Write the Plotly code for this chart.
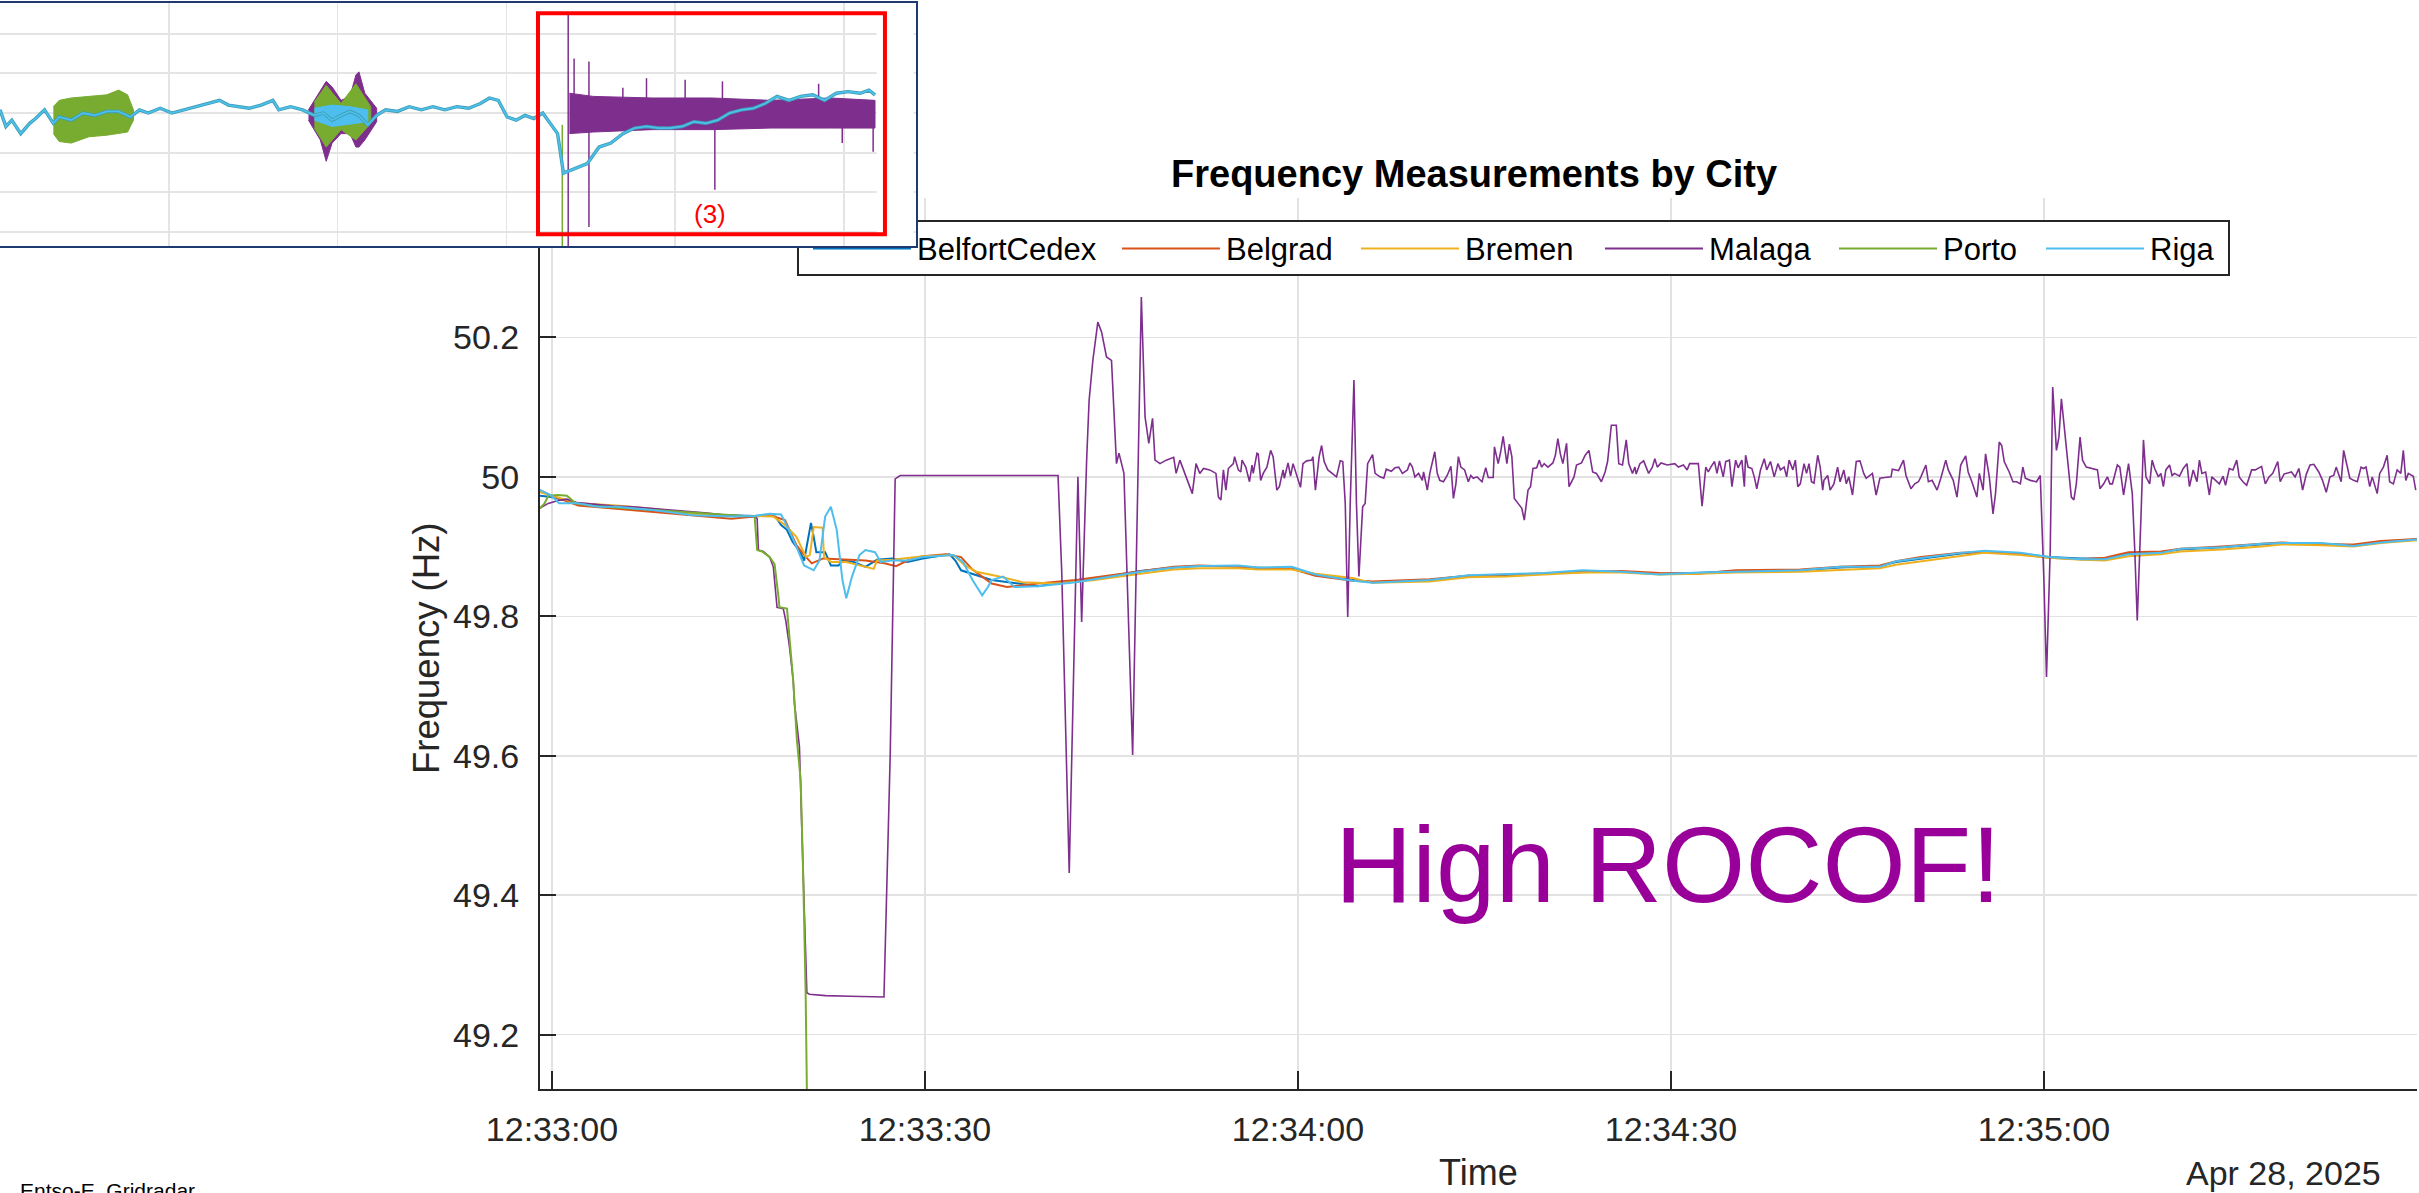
import pandas as pd
import plotly.graph_objects as go

W, H = 2419, 1193
FONT = "Arial, Liberation Sans, Helvetica, sans-serif"
BASE = pd.Timestamp("2025-04-28 12:33:00")

# ---------------- data ----------------
cities = ["BelfortCedex", "Belgrad", "Bremen", "Malaga", "Porto", "Riga"]
colors = ["#0072BD", "#D95319", "#EDB120", "#7E2F8E", "#77AC30", "#4DBEEE"]

x_tick_seconds = [0, 30, 60, 90, 120]
x_tick_text = ["12:33:00", "12:33:30", "12:34:00", "12:34:30", "12:35:00"]
y_tick_vals = [49.2, 49.4, 49.6, 49.8, 50.0, 50.2]
y_tick_text = ["49.2", "49.4", "49.6", "49.8", "50", "50.2"]
x_range_seconds = [-0.965, 150.0]
y_range = [49.122, 50.40]

# seconds after 12:33:00
belfort_t_early = [-0.97, -0.05, 2.11, 5.19, 8.27, 11.35, 14.43, 16.28, 17.51, 17.97,
                   18.43, 18.89, 19.35, 19.97, 20.28, 20.59, 20.83, 21.05, 21.26, 21.97,
                   22.43, 23.05, 23.36, 24.28, 25.21, 26.13, 27.36, 28.59, 29.82, 31.98,
                   32.44, 32.90, 33.82, 35.36, 37.52, 39.06, 40.60, 43.68, 47.31]
belfort_hz_early = [49.973, 49.971, 49.962, 49.957, 49.952, 49.947, 49.945, 49.944, 49.945, 49.943,
                    49.931, 49.924, 49.907, 49.892, 49.880, 49.909, 49.934, 49.914, 49.892, 49.892,
                    49.873, 49.873, 49.880, 49.878, 49.871, 49.881, 49.883, 49.878, 49.883, 49.889,
                    49.880, 49.866, 49.861, 49.852, 49.847, 49.843, 49.847, 49.854, 49.865]

belgrad_t_early = [-0.97, -0.05, 2.11, 5.19, 8.27, 11.35, 14.43, 16.28, 17.51, 18.74,
                   19.66, 20.28, 20.89, 21.82, 23.05, 25.21, 26.74, 27.67, 28.59, 29.82,
                   31.67, 32.90, 33.82, 35.36, 36.59, 39.06, 42.14, 47.31]
belgrad_hz_early = [49.981, 49.973, 49.959, 49.954, 49.950, 49.945, 49.940, 49.943, 49.945, 49.938,
                    49.902, 49.888, 49.876, 49.883, 49.882, 49.880, 49.876, 49.872, 49.880, 49.886,
                    49.889, 49.885, 49.867, 49.847, 49.842, 49.847, 49.852, 49.864]

bremen_t_early = [-0.97, 2.11, 5.19, 8.27, 11.35, 14.43, 16.28, 17.81, 18.74, 19.66,
                  20.43, 20.74, 21.05, 21.76, 21.88, 22.43, 23.67, 25.51, 25.88, 26.13,
                  27.36, 29.82, 32.29, 33.21, 34.13, 35.98, 37.83, 40.60, 43.68, 47.31]
bremen_hz_early = [49.978, 49.962, 49.959, 49.954, 49.947, 49.944, 49.944, 49.943, 49.931, 49.914,
                   49.885, 49.888, 49.928, 49.927, 49.885, 49.878, 49.878, 49.870, 49.868, 49.880,
                   49.881, 49.886, 49.888, 49.873, 49.864, 49.857, 49.849, 49.847, 49.852, 49.861]

riga_t_early = [-0.97, -0.05, 0.57, 2.11, 3.65, 5.19, 8.27, 11.35, 14.43, 16.28,
                17.51, 18.43, 19.05, 19.66, 20.28, 21.05, 21.51, 21.97, 22.43, 22.90,
                23.36, 23.67, 24.13, 24.74, 25.21, 25.98, 26.44, 27.36, 28.59, 29.82,
                32.28, 33.06, 33.82, 34.60, 35.06, 35.36, 36.29, 37.20, 39.06, 42.14,
                47.31]
riga_hz_early = [49.981, 49.973, 49.962, 49.962, 49.957, 49.957, 49.952, 49.945, 49.943, 49.944,
                 49.947, 49.946, 49.924, 49.900, 49.873, 49.866, 49.880, 49.943, 49.957, 49.924,
                 49.852, 49.826, 49.857, 49.888, 49.895, 49.892, 49.878, 49.880, 49.880, 49.885,
                 49.888, 49.878, 49.852, 49.830, 49.842, 49.852, 49.857, 49.842, 49.843, 49.849,
                 49.864]

late_t = [50.0, 52.1, 55.2, 56.8, 59.5, 61.4, 64.4, 66.0, 70.6, 73.7,
          76.8, 79.8, 82.9, 86.0, 89.1, 92.2, 95.2, 100.4, 103.6, 106.8,
          108.1, 110.1, 113.3, 115.2, 118.1, 120.4, 123.0, 124.9, 126.8, 129.4,
          131.0, 134.3, 137.5, 139.1, 142.3, 144.9, 147.1, 150.0]
belfort_hz_late = [49.870, 49.872, 49.872, 49.869, 49.869, 49.859, 49.852, 49.849, 49.852, 49.858,
                   49.859, 49.861, 49.865, 49.864, 49.861, 49.862, 49.865, 49.866, 49.870, 49.872,
                   49.878, 49.883, 49.890, 49.893, 49.890, 49.885, 49.883, 49.883, 49.890, 49.892,
                   49.896, 49.899, 49.903, 49.905, 49.904, 49.902, 49.907, 49.910]
belgrad_hz_late = [49.871, 49.873, 49.871, 49.870, 49.868, 49.858, 49.851, 49.850, 49.853, 49.858,
                   49.860, 49.862, 49.864, 49.865, 49.862, 49.861, 49.866, 49.867, 49.871, 49.873,
                   49.879, 49.885, 49.891, 49.892, 49.889, 49.884, 49.882, 49.884, 49.892, 49.893,
                   49.897, 49.900, 49.904, 49.906, 49.903, 49.903, 49.908, 49.911]
bremen_hz_late = [49.867, 49.869, 49.869, 49.867, 49.867, 49.861, 49.855, 49.848, 49.850, 49.856,
                  49.857, 49.860, 49.863, 49.863, 49.860, 49.861, 49.863, 49.864, 49.867, 49.869,
                  49.874, 49.879, 49.887, 49.891, 49.888, 49.884, 49.881, 49.880, 49.886, 49.889,
                  49.893, 49.896, 49.900, 49.903, 49.902, 49.900, 49.905, 49.909]
riga_hz_late = [49.870, 49.872, 49.873, 49.870, 49.871, 49.860, 49.851, 49.848, 49.852, 49.859,
                49.860, 49.862, 49.866, 49.864, 49.860, 49.863, 49.864, 49.866, 49.871, 49.871,
                49.879, 49.884, 49.891, 49.894, 49.891, 49.885, 49.882, 49.882, 49.889, 49.891,
                49.897, 49.899, 49.904, 49.905, 49.905, 49.901, 49.906, 49.910]

malaga_t_a = [-1.0, -0.3, 0.5, 1.2, 2.0, 3.5, 5.0, 6.5, 8.0, 9.5,
              11.0, 12.5, 14.0, 15.5, 16.3, 16.5, 16.6, 17.0, 17.5, 17.8,
              18.1, 18.6, 18.8, 19.1, 19.4, 19.5, 19.9, 20.2, 20.5, 20.7,
              22.0, 24.0, 26.0, 26.7, 27.2, 27.6, 28.0, 30.0, 32.0, 34.0,
              36.0, 38.0, 40.0, 40.7, 41.0, 41.6, 42.3, 42.6, 43.0, 43.2,
              43.5, 43.7, 43.9, 44.2, 44.6, 45.0, 45.4, 45.6, 46.0, 46.7,
              47.4, 47.7, 48.0, 48.3, 48.5, 48.9, 49.4, 50.0, 50.2, 50.5,
              50.9, 51.5, 51.8]
malaga_hz_a = [49.955, 49.962, 49.966, 49.968, 49.963, 49.960, 49.958, 49.957, 49.955, 49.952,
               49.950, 49.948, 49.945, 49.944, 49.943, 49.940, 49.895, 49.893, 49.885, 49.871,
               49.813, 49.811, 49.794, 49.756, 49.708, 49.675, 49.613, 49.432, 49.260, 49.258,
               49.256, 49.255, 49.254, 49.254, 49.600, 49.997, 50.002, 50.002, 50.003, 50.002,
               50.002, 50.003, 50.002, 50.002, 49.862, 49.432, 50.000, 49.792, 50.024, 50.110,
               50.167, 50.198, 50.222, 50.208, 50.172, 50.167, 50.019, 50.034, 50.005, 49.601,
               50.258, 50.086, 50.048, 50.084, 50.024, 50.019, 50.024, 50.028, 50.005, 50.024,
               50.005, 49.976, 50.019]

malaga_t_b = [52.1, 52.4, 52.9, 53.4, 53.6, 53.8, 54.0, 54.2, 54.4, 54.8,
              54.9, 55.2, 55.4, 55.5, 55.8, 56.1, 56.3, 56.4, 56.7, 56.8,
              57.0, 57.2, 57.5, 57.8, 58.0, 58.3, 58.5, 58.8, 58.9, 59.2,
              59.4, 59.6, 59.9, 60.2, 60.4, 60.7, 61.1, 61.2, 61.4, 61.7,
              61.9, 62.1, 62.4, 62.8, 63.1, 63.4, 63.6, 63.8, 64.0, 64.2,
              64.5, 64.7, 64.9, 65.2, 65.4, 65.6, 66.0, 66.2, 66.6, 66.9,
              67.1, 67.5, 67.8, 68.1, 68.4, 68.8, 69.0, 69.2, 69.4, 69.7,
              70.0, 70.1, 70.4, 70.6, 71.0, 71.2, 71.4, 71.7, 72.0, 72.3,
              72.5, 72.7, 72.9, 73.1, 73.4, 73.7, 73.9, 74.1, 74.4, 74.8,
              75.1, 75.3, 75.7, 75.8, 76.1, 76.3, 76.5, 76.8, 77.0, 77.2,
              77.4, 77.7, 78.0, 78.2, 78.5, 78.7, 78.9, 79.2, 79.4, 79.6,
              79.8, 80.1, 80.5, 80.7, 80.9, 81.1, 81.3, 81.6, 81.8, 82.2,
              82.4, 82.8, 83.1, 83.4, 83.7, 84.0, 84.4, 84.7, 84.9, 85.2,
              85.6, 85.8, 86.1, 86.4, 86.6, 86.9, 87.1, 87.2, 87.5, 87.8,
              88.2, 88.5, 88.7, 88.9, 89.2, 89.7, 90.3, 90.6, 91.0, 91.3,
              91.5, 92.2, 92.5, 92.8, 93.0, 93.2, 93.5, 93.7, 93.9, 94.2,
              94.4, 94.7, 94.9, 95.2, 95.4, 95.7, 95.9, 96.0, 96.2, 96.5,
              96.7, 96.9, 97.2, 97.5, 97.7, 98.0, 98.3, 98.6, 98.8, 99.1,
              99.3, 99.5, 99.8, 100.0, 100.2]
malaga_hz_b = [50.005, 50.012, 50.010, 50.005, 49.971, 49.967, 50.010, 49.981, 50.012, 50.019,
               50.029, 50.010, 50.007, 50.024, 50.014, 49.993, 50.017, 50.005, 50.034, 50.033,
               49.995, 50.005, 50.014, 50.038, 50.029, 49.981, 49.986, 50.010, 49.998, 50.020,
               50.001, 50.019, 50.002, 49.985, 50.019, 50.023, 50.024, 50.029, 49.981, 50.029,
               50.045, 50.022, 50.010, 50.005, 50.000, 50.023, 50.022, 49.962, 49.799, 49.962,
               50.139, 49.962, 49.857, 49.957, 49.962, 50.019, 50.032, 50.005, 50.000, 49.998,
               50.011, 50.008, 50.013, 50.014, 50.005, 50.010, 50.020, 50.014, 50.000, 50.005,
               49.995, 50.007, 49.981, 50.005, 50.036, 50.005, 49.995, 49.993, 50.002, 50.015,
               49.969, 49.990, 50.029, 50.014, 50.010, 49.993, 50.002, 49.998, 50.000, 49.993,
               50.013, 49.999, 49.999, 50.043, 50.019, 50.036, 50.058, 50.019, 50.047, 50.029,
               49.969, 49.962, 49.955, 49.938, 49.981, 49.986, 50.012, 50.013, 50.024, 50.014,
               50.019, 50.014, 50.020, 50.031, 50.055, 50.033, 50.019, 50.048, 49.986, 50.000,
               50.017, 50.020, 50.031, 50.038, 50.007, 50.005, 49.993, 50.007, 50.022, 50.074,
               50.074, 50.019, 50.017, 50.053, 50.019, 50.005, 50.014, 50.004, 50.019, 50.023,
               50.005, 50.014, 50.026, 50.014, 50.020, 50.017, 50.019, 50.014, 50.017, 50.010,
               50.019, 50.019, 49.958, 50.014, 50.007, 50.014, 50.022, 50.005, 50.023, 50.000,
               50.022, 50.024, 49.986, 50.024, 50.013, 50.024, 49.986, 50.031, 50.014, 50.012,
               50.000, 49.983, 50.010, 50.026, 50.010, 50.022, 50.000, 50.019, 50.010, 50.014,
               50.000, 50.024, 50.010, 50.024, 49.986]

malaga_t_c = [100.4, 100.7, 100.9, 101.1, 101.3, 101.5, 101.8, 102.0, 102.2, 102.3,
              102.6, 102.8, 103.1, 103.4, 103.6, 103.9, 104.1, 104.3, 104.6, 104.9,
              105.2, 105.5, 105.7, 105.9, 106.2, 106.5, 106.8, 107.2, 107.7, 107.8,
              108.3, 108.7, 108.9, 109.3, 109.6, 109.9, 110.1, 110.5, 110.7, 111.0,
              111.4, 111.7, 112.1, 112.3, 112.7, 113.0, 113.3, 113.7, 113.9, 114.2,
              114.6, 114.8, 115.1, 115.3, 115.6, 115.9, 116.1, 116.4, 116.6, 116.8,
              117.2, 117.5, 117.8, 118.1, 118.3, 118.5, 118.9, 119.4, 119.7, 120.0,
              120.2, 120.5, 120.7, 121.0, 121.2, 121.4, 121.7, 121.9, 122.2, 122.4,
              122.6, 122.9, 123.1, 123.4, 123.8, 124.3, 124.5, 124.8, 125.1, 125.3,
              125.5, 125.9, 126.1, 126.4, 126.8, 127.1, 127.3, 127.5, 127.8, 128.0,
              128.2, 128.5, 128.7, 128.9, 129.2, 129.4, 129.6, 129.8, 130.1, 130.3,
              130.5, 130.9, 131.2, 131.5, 131.7, 132.0, 132.3, 132.5, 132.7, 133.0,
              133.3, 133.5, 133.8, 134.1, 134.4, 134.6, 134.9, 135.2, 135.5, 135.7,
              136.0, 136.3, 136.7, 137.0, 137.5, 137.8, 138.1, 138.4, 138.8, 139.0,
              139.3, 139.6, 139.9, 140.2, 140.5, 140.8, 141.1, 141.4, 141.7, 142.1,
              142.4, 142.7, 143.0, 143.3, 143.5, 143.9, 144.1, 144.3, 144.6, 144.9,
              145.2, 145.5, 145.7, 145.9, 146.2, 146.4, 146.8, 147.0, 147.3, 147.6,
              147.8, 148.1, 148.4, 148.7, 148.9, 149.1, 149.3, 149.7, 149.9]
malaga_hz_c = [49.990, 50.019, 50.005, 50.019, 49.993, 49.991, 50.031, 50.014, 49.981, 49.995,
               50.002, 49.981, 49.990, 50.014, 49.993, 50.010, 49.990, 50.000, 49.974, 50.022,
               50.023, 50.005, 49.998, 50.001, 50.005, 49.974, 49.998, 49.999, 50.000, 50.011,
               50.009, 50.024, 50.002, 49.983, 49.990, 49.993, 50.000, 50.017, 49.993, 49.995,
               49.981, 49.998, 50.024, 50.010, 49.995, 49.971, 50.017, 50.030, 50.007, 49.993,
               49.971, 50.005, 49.981, 50.033, 50.000, 49.947, 49.976, 50.050, 50.045, 50.022,
               50.007, 49.993, 49.993, 49.990, 50.014, 49.998, 49.995, 49.993, 50.002, 49.847,
               49.713, 49.895, 50.129, 50.038, 50.057, 50.112, 50.057, 50.024, 49.971, 49.967,
               49.990, 50.057, 50.024, 50.014, 50.012, 50.010, 49.983, 49.990, 50.000, 49.990,
               49.990, 50.017, 50.014, 49.974, 50.019, 49.976, 49.895, 49.794, 49.943, 50.053,
               50.000, 49.990, 50.024, 50.012, 50.000, 50.005, 49.986, 50.010, 50.017, 50.002,
               50.005, 50.001, 50.012, 50.019, 49.986, 50.010, 49.993, 50.024, 50.005, 50.007,
               49.974, 50.000, 49.995, 49.990, 50.001, 49.988, 50.012, 50.010, 50.024, 50.000,
               49.993, 49.988, 50.010, 50.010, 50.015, 49.990, 50.000, 50.005, 50.022, 49.993,
               50.004, 50.006, 50.007, 50.000, 50.012, 49.981, 50.004, 50.017, 50.018, 50.007,
               49.995, 49.978, 50.000, 50.002, 50.014, 49.993, 50.038, 50.022, 49.998, 49.995,
               49.993, 50.014, 50.012, 50.014, 49.986, 50.000, 49.976, 50.005, 50.014, 50.031,
               49.993, 49.990, 50.010, 50.005, 50.038, 49.995, 50.005, 50.001, 49.981]

porto_t = [-0.97, -0.6, -0.3, 0.5, 1.2, 1.9, 3.5, 5.2, 8.3, 11.3,
           14.4, 16.3, 16.5, 16.9, 17.5, 17.9, 18.2, 18.3, 18.9, 19.1,
           19.4, 19.7, 20.0, 20.2, 20.4, 20.5, 20.6]
porto_hz = [49.955, 49.962, 49.973, 49.974, 49.973, 49.962, 49.958, 49.956, 49.953, 49.949,
            49.945, 49.943, 49.895, 49.893, 49.885, 49.875, 49.830, 49.813, 49.811, 49.766,
            49.708, 49.622, 49.565, 49.432, 49.260, 49.120, 48.900]

# ---- inset (pasted overview chart, arbitrary time units) ----
inset_x_range = [0, 54.28]
inset_y_range = [49.832, 50.139]
inset_x_grid = [10, 20, 30, 40, 50]
inset_y_grid = [49.85, 49.90, 49.95, 50.00, 50.05, 50.10]

inset_line_u = [0.00, 0.35, 0.70, 1.23, 1.76, 2.11, 2.64, 3.16, 3.51, 4.22,
                4.92, 5.62, 6.33, 7.03, 7.73, 8.26, 8.79, 9.49, 10.19, 10.90,
                11.60, 12.30, 13.01, 13.53, 14.06, 14.76, 15.47, 16.17, 16.52, 17.22,
                17.93, 18.63, 19.16, 19.68, 20.21, 20.74, 21.27, 21.79, 22.32, 22.85,
                23.55, 24.25, 24.96, 25.66, 26.36, 27.07, 27.77, 28.47, 29.00, 29.53,
                30.05, 30.58, 31.11, 31.63, 32.16, 32.69, 33.04, 33.39, 34.09, 34.80,
                35.50, 36.20, 36.91, 37.61, 38.31, 39.02, 39.72, 40.42, 41.12, 41.83,
                42.53, 43.23, 43.94, 44.64, 45.34, 46.05, 46.75, 47.45, 48.16, 48.86,
                49.56, 50.26, 50.97, 51.49, 51.85]
inset_line_hz = [50.004, 49.983, 49.991, 49.974, 49.987, 49.993, 50.004, 49.987, 49.995, 49.991,
                 50.000, 49.997, 50.002, 50.002, 49.995, 50.004, 50.000, 50.006, 50.000, 50.004,
                 50.008, 50.012, 50.016, 50.010, 50.008, 50.006, 50.010, 50.016, 50.004, 50.008,
                 50.004, 49.997, 50.000, 49.991, 49.997, 50.002, 49.997, 49.985, 49.997, 50.004,
                 50.002, 50.008, 50.004, 50.008, 50.004, 50.008, 50.006, 50.012, 50.019, 50.016,
                 49.995, 49.991, 49.997, 49.993, 50.000, 49.985, 49.974, 49.924, 49.930, 49.936,
                 49.957, 49.962, 49.974, 49.981, 49.983, 49.981, 49.981, 49.983, 49.989, 49.987,
                 49.991, 50.000, 50.004, 50.006, 50.012, 50.021, 50.016, 50.021, 50.023, 50.016,
                 50.025, 50.027, 50.025, 50.029, 50.023]

inset_green1_u = [3.16, 3.51, 4.22, 5.27, 6.33, 7.03, 7.56, 7.91]
inset_green1_hi = [50.008, 50.016, 50.019, 50.021, 50.023, 50.029, 50.023, 50.004]
inset_green1_lo = [49.974, 49.964, 49.962, 49.970, 49.972, 49.974, 49.976, 49.991]

inset_purple1_u = [18.28, 18.98, 19.33, 19.68, 20.21, 20.74, 21.09, 21.27, 21.62, 22.32]
inset_purple1_hi = [50.004, 50.029, 50.040, 50.033, 50.016, 50.021, 50.048, 50.052, 50.025, 50.006]
inset_purple1_lo = [49.991, 49.966, 49.939, 49.962, 49.974, 49.974, 49.957, 49.957, 49.966, 49.989]

inset_green2_u = [18.63, 19.33, 20.21, 21.09, 21.97]
inset_green2_hi = [50.014, 50.035, 50.012, 50.037, 50.008]
inset_green2_lo = [49.981, 49.957, 49.979, 49.966, 49.987]

inset_cyan2_u = [18.63, 19.68, 20.74, 21.79]
inset_cyan2_hi = [50.006, 50.010, 50.008, 50.004]
inset_cyan2_lo = [49.991, 49.983, 49.986, 49.989]

inset_purple2_u = [33.74, 35.15, 38.66, 42.18, 45.69, 49.21, 51.85]
inset_purple2_hi = [50.025, 50.021, 50.019, 50.019, 50.016, 50.019, 50.016]
inset_purple2_lo = [49.974, 49.976, 49.979, 49.979, 49.981, 49.981, 49.981]

inset_pspike_u = [33.67, 33.67, 34.02, 34.90, 34.90, 36.91, 38.31, 40.60, 42.36, 42.81, 48.51, 49.91, 51.74]
inset_pspike_hz = [50.126, 49.800, 50.069, 50.065, 49.856, 50.032, 50.044, 50.042, 49.903, 50.040, 50.037, 49.962, 49.951]
inset_gspike_u = [33.32]
inset_gspike_hz = [49.800]

# ---------------- helpers (layout only) ----------------
def px(p):
    return p / W


def py(p):
    return 1 - p / H


def times(sec):
    return [BASE + pd.Timedelta(seconds=s) for s in sec]


def band(u, hi, lo):
    return u + u[::-1], hi + lo[::-1]


def spikes(u, v, base):
    xs, ys = [], []
    for a, b in zip(u, v):
        xs += [a, a, None]
        ys += [base, b, None]
    return xs, ys


series = {
    "BelfortCedex": (belfort_t_early + late_t, belfort_hz_early + belfort_hz_late),
    "Belgrad": (belgrad_t_early + late_t, belgrad_hz_early + belgrad_hz_late),
    "Bremen": (bremen_t_early + late_t, bremen_hz_early + bremen_hz_late),
    "Malaga": (malaga_t_a + malaga_t_b + malaga_t_c, malaga_hz_a + malaga_hz_b + malaga_hz_c),
    "Porto": (porto_t, porto_hz),
    "Riga": (riga_t_early + late_t, riga_hz_early + riga_hz_late),
}
for k, (a, b) in series.items():
    assert len(a) == len(b), (k, len(a), len(b))

fig = go.Figure()

# main traces
for name, col in zip(cities, colors):
    t, hz = series[name]
    fig.add_trace(go.Scatter(
        x=times(t), y=hz, mode="lines", name=name,
        line=dict(color=col, width=1.6 if name == "Malaga" else 2.0),
        xaxis="x", yaxis="y", showlegend=False, hoverinfo="skip"))

# legend (own small axes so the pasted inset can overlap it)
LEG_L, LEG_R, LEG_T, LEG_B = 799, 2228, 222, 274
LEG_W, LEG_H = LEG_R - LEG_L, LEG_B - LEG_T
legend_line_start = [14, 323, 562, 806, 1040, 1247]
legend_line_len = 98
legend_text_gap = 6
LEG_YC = LEG_H / 2 - 0.5
LEG_TEXT_Y = LEG_YC - 3.5
for name, col, x0 in zip(cities, colors, legend_line_start):
    fig.add_trace(go.Scatter(
        x=[x0, x0 + legend_line_len], y=[LEG_YC, LEG_YC], mode="lines",
        line=dict(color=col, width=2.2), xaxis="x2", yaxis="y2",
        showlegend=False, hoverinfo="skip"))
    fig.add_trace(go.Scatter(
        x=[x0 + legend_line_len + legend_text_gap], y=[LEG_TEXT_Y], mode="text",
        text=[name], textposition="middle right",
        textfont=dict(family=FONT, size=31, color="#000000"),
        xaxis="x2", yaxis="y2", showlegend=False, hoverinfo="skip"))

# inset traces
def add_band(u, hi, lo, col):
    xs, ys = band(u, hi, lo)
    fig.add_trace(go.Scatter(x=xs, y=ys, mode="lines", fill="toself", fillcolor=col,
                             line=dict(color=col, width=1), xaxis="x3", yaxis="y3",
                             showlegend=False, hoverinfo="skip"))

add_band(inset_green1_u, inset_green1_hi, inset_green1_lo, "#77AC30")
add_band(inset_purple1_u, inset_purple1_hi, inset_purple1_lo, "#7E2F8E")
add_band(inset_green2_u, inset_green2_hi, inset_green2_lo, "#77AC30")
add_band(inset_cyan2_u, inset_cyan2_hi, inset_cyan2_lo, "#4DBEEE")
add_band(inset_purple2_u, inset_purple2_hi, inset_purple2_lo, "#7E2F8E")
sx, sy = spikes(inset_pspike_u, inset_pspike_hz, 50.0)
fig.add_trace(go.Scatter(x=sx, y=sy, mode="lines", line=dict(color="#7E2F8E", width=1.5),
                         xaxis="x3", yaxis="y3", showlegend=False, hoverinfo="skip"))
gx, gy = spikes(inset_gspike_u, inset_gspike_hz, 49.985)
fig.add_trace(go.Scatter(x=gx, y=gy, mode="lines", line=dict(color="#77AC30", width=1.5),
                         xaxis="x3", yaxis="y3", showlegend=False, hoverinfo="skip"))
fig.add_trace(go.Scatter(x=inset_line_u, y=inset_line_hz, mode="lines",
                         line=dict(color="#3f9bb0", width=3.4),
                         xaxis="x3", yaxis="y3", showlegend=False, hoverinfo="skip"))
fig.add_trace(go.Scatter(x=inset_line_u, y=inset_line_hz, mode="lines",
                         line=dict(color="#4cc0ec", width=1.8),
                         xaxis="x3", yaxis="y3", showlegend=False, hoverinfo="skip"))

AX = "#262626"
tickfont = dict(family=FONT, size=34, color=AX)

fig.update_layout(
    width=W, height=H, autosize=False,
    margin=dict(l=0, r=0, t=0, b=0, pad=0, autoexpand=False),
    paper_bgcolor="white", plot_bgcolor="white",
    showlegend=False,
    font=dict(family=FONT, color=AX),
    xaxis=dict(
        domain=[px(540), px(2417)], anchor="y", type="date", automargin=False,
        range=[BASE + pd.Timedelta(seconds=x_range_seconds[0]),
               BASE + pd.Timedelta(seconds=x_range_seconds[1])],
        tickmode="array", tickvals=times(x_tick_seconds), ticktext=x_tick_text,
        ticks="inside", ticklen=18, tickwidth=2, tickcolor=AX,
        showline=True, linecolor=AX, linewidth=2, mirror=False,
        showgrid=True, gridcolor="#e2e2e2", gridwidth=1.5, zeroline=False,
        tickfont=tickfont, ticklabelstandoff=9, fixedrange=True),
    yaxis=dict(
        domain=[py(1089), py(198)], anchor="x", range=y_range, automargin=False,
        tickmode="array", tickvals=y_tick_vals, ticktext=y_tick_text,
        ticks="inside", ticklen=16, tickwidth=2, tickcolor=AX,
        showline=True, linecolor=AX, linewidth=2, mirror=False,
        showgrid=True, gridcolor="#e2e2e2", gridwidth=1.5, zeroline=False,
        tickfont=tickfont, ticklabelstandoff=12, fixedrange=True),
    xaxis2=dict(
        domain=[px(LEG_L), px(LEG_R)], anchor="y2", range=[0, LEG_W], automargin=False,
        showgrid=False, zeroline=False, showticklabels=False, ticks="",
        showline=True, mirror=True, linecolor=AX, linewidth=1.6, fixedrange=True),
    yaxis2=dict(
        domain=[py(LEG_B), py(LEG_T)], anchor="x2", range=[0, LEG_H], automargin=False,
        showgrid=False, zeroline=False, showticklabels=False, ticks="",
        showline=True, mirror=True, linecolor=AX, linewidth=1.6, fixedrange=True),
    xaxis3=dict(
        domain=[0, px(916)], anchor="y3", range=inset_x_range, automargin=False,
        tickmode="array", tickvals=inset_x_grid, showticklabels=False, ticks="",
        showgrid=True, gridcolor="#e4e4e4", gridwidth=1.5, zeroline=False,
        showline=True, mirror=True, linecolor="#1F3A6E", linewidth=2, fixedrange=True),
    yaxis3=dict(
        domain=[py(246), py(3)], anchor="x3", range=inset_y_range, automargin=False,
        tickmode="array", tickvals=inset_y_grid, showticklabels=False, ticks="",
        showgrid=True, gridcolor="#e4e4e4", gridwidth=2, zeroline=False,
        showline=True, mirror=True, linecolor="#1F3A6E", linewidth=2, fixedrange=True),
)

# inset decorations: blank strip right of inset plot area, red highlight box
fig.add_shape(type="rect", xref="x3", yref="y3", x0=51.95, x1=54.15, y0=49.834, y1=50.137,
              fillcolor="white", line=dict(width=0), layer="above")
fig.add_shape(type="rect", xref="x3", yref="y3", x0=31.88, x1=52.44, y0=49.847, y1=50.126,
              fillcolor="rgba(0,0,0,0)", line=dict(color="#FF0000", width=4), layer="above")

annotations = [
    dict(text="(3)", xref="x3", yref="y3", x=42.07, y=49.872, showarrow=False,
         font=dict(family=FONT, size=26, color="#FF0000"), xanchor="center", yanchor="middle"),
    dict(text="<b>Frequency Measurements by City</b>", xref="paper", yref="paper",
         x=px(1474), y=py(174), showarrow=False, xanchor="center", yanchor="middle",
         font=dict(family=FONT, size=38, color="#000000")),
    dict(text="Frequency (Hz)", xref="paper", yref="paper", x=px(426), y=py(648),
         textangle=-90, showarrow=False, xanchor="center", yanchor="middle",
         font=dict(family=FONT, size=36.5, color=AX)),
    dict(text="Time", xref="paper", yref="paper", x=px(1478), y=py(1172),
         showarrow=False, xanchor="center", yanchor="middle",
         font=dict(family=FONT, size=36, color=AX)),
    dict(text="Apr 28, 2025", xref="paper", yref="paper", x=px(2383), y=py(1173),
         showarrow=False, xanchor="right", yanchor="middle",
         font=dict(family=FONT, size=34, color=AX)),
    dict(text="High ROCOF!", xref="paper", yref="paper", x=px(1668), y=py(865),
         showarrow=False, xanchor="center", yanchor="middle",
         font=dict(family=FONT, size=107, color="#990099")),
    dict(text="Entso-E, Gridradar", xref="paper", yref="paper", x=px(18), y=py(1177),
         showarrow=False, xanchor="left", yanchor="top",
         font=dict(family=FONT, size=21, color="#000000")),
]
fig.update_layout(annotations=annotations)

fig.write_html("out.html", config={"displayModeBar": False, "staticPlot": True},
               post_script="document.body.style.margin='0';document.body.style.overflow='hidden';")
